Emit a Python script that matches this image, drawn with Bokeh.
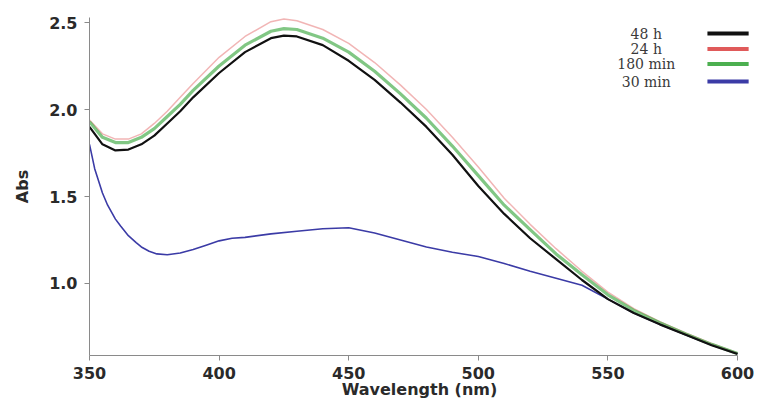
from bokeh.plotting import figure
from bokeh.models import Range1d, FixedTicker, Label, PrintfTickFormatter
from bokeh.embed import file_html
from bokeh.resources import INLINE

# ---- data ----
wavelength = [350, 355, 360, 365, 370, 375, 380, 385, 390, 400, 410, 420, 425, 430,
              440, 450, 460, 470, 480, 490, 500, 510, 520, 530, 540, 550, 560, 570,
              580, 590, 600]
abs_48h = [1.90, 1.80, 1.765, 1.77, 1.80, 1.85, 1.92, 1.99, 2.07, 2.21, 2.33, 2.41, 2.425, 2.42,
           2.37, 2.28, 2.17, 2.04, 1.90, 1.74, 1.56, 1.40, 1.26, 1.14, 1.02, 0.91, 0.83, 0.765,
           0.705, 0.645, 0.595]
abs_24h = [1.94, 1.86, 1.83, 1.83, 1.86, 1.92, 1.99, 2.07, 2.15, 2.30, 2.42, 2.505, 2.52, 2.51,
           2.46, 2.38, 2.27, 2.14, 2.00, 1.84, 1.67, 1.49, 1.34, 1.20, 1.07, 0.95, 0.855, 0.78,
           0.715, 0.655, 0.60]
abs_180min = [1.93, 1.84, 1.81, 1.81, 1.84, 1.89, 1.96, 2.03, 2.11, 2.25, 2.37, 2.45, 2.465, 2.46,
              2.41, 2.33, 2.22, 2.09, 1.95, 1.79, 1.62, 1.45, 1.31, 1.17, 1.05, 0.935, 0.845, 0.775,
              0.71, 0.65, 0.597]

wavelength_30min = [350, 352, 355, 357, 360, 362, 365, 368, 370, 373, 376, 380, 385, 390, 395,
                    400, 405, 410, 420, 430, 440, 450, 460, 470, 480, 490, 500, 510, 520, 530,
                    540, 550, 560, 570, 580, 590, 600]
abs_30min = [1.80, 1.66, 1.52, 1.45, 1.37, 1.33, 1.275, 1.235, 1.21, 1.185, 1.17, 1.165, 1.175,
             1.195, 1.22, 1.245, 1.26, 1.265, 1.285, 1.30, 1.315, 1.32, 1.29, 1.25, 1.21, 1.18,
             1.155, 1.115, 1.07, 1.03, 0.99, 0.91, 0.83, 0.765, 0.705, 0.648, 0.597]

series_names = ["48 h", "24 h", "180 min", "30 min"]
x_ticks = [350, 400, 450, 500, 550, 600]
y_ticks = [1.0, 1.5, 2.0, 2.5]

# ---- figure ----
p = figure(width=757, height=402, output_backend="svg", toolbar_location=None,
           x_range=Range1d(350, 604.63), y_range=Range1d(0.586, 2.529),
           min_border_left=89, min_border_right=8, min_border_top=17, min_border_bottom=47)
p.outline_line_color = None
p.xgrid.visible = False
p.ygrid.visible = False
p.background_fill_color = "white"
p.border_fill_color = "white"

sans = "DejaVu Sans"
for ax in (p.xaxis[0], p.yaxis[0]):
    ax.axis_line_color = "#8a8a8a"
    ax.major_tick_line_color = "#8a8a8a"
    ax.minor_tick_line_color = None
    ax.major_tick_in = 0
    ax.major_tick_out = 5
    ax.major_label_text_font = sans
    ax.major_label_text_font_style = "bold"
    ax.major_label_text_font_size = "16px"
    ax.major_label_text_color = "#2a2a2a"
    ax.axis_label_text_font = sans
    ax.axis_label_text_font_style = "bold"
    ax.axis_label_text_font_size = "16px"
    ax.axis_label_text_color = "#2a2a2a"

p.xaxis.ticker = FixedTicker(ticks=x_ticks)
p.yaxis.ticker = FixedTicker(ticks=y_ticks)
p.yaxis.formatter = PrintfTickFormatter(format="%.1f")
p.xaxis.bounds = (350, 600)
p.xaxis.axis_label = "Wavelength (nm)"
p.yaxis.axis_label = "Abs"
p.xaxis.major_label_standoff = 6
p.xaxis.axis_label_standoff = -2
p.yaxis.major_label_standoff = 7
p.yaxis.axis_label_standoff = 14

# ---- curves ----
p.line(wavelength_30min, abs_30min, line_color="#3b3ba6", line_width=1.6)
p.line(wavelength, abs_24h, line_color="#e05a5a", line_width=1.5, line_alpha=0.45)
p.line(wavelength, abs_180min, line_color="#4caf50", line_width=3.2, line_alpha=0.7)
p.line(wavelength, abs_48h, line_color="#111111", line_width=2.2)

# ---- legend (text left, colour swatch right) ----
legend_colors = ["#111111", "#e05a5a", "#4caf50", "#3b3ba6"]
legend_y = [2.437, 2.348, 2.262, 2.161]
for name, col, yy in zip(series_names, legend_colors, legend_y):
    p.add_layout(Label(x=564.8, y=yy, text=name, text_align="center", text_baseline="middle",
                       text_font="DejaVu Serif", text_font_size="14px", text_color="#3a3a3a"))
    p.segment(x0=[588.4], y0=[yy], x1=[604.3], y1=[yy], line_color=col, line_width=4)

open("out.html", "w").write(file_html(p, INLINE))
